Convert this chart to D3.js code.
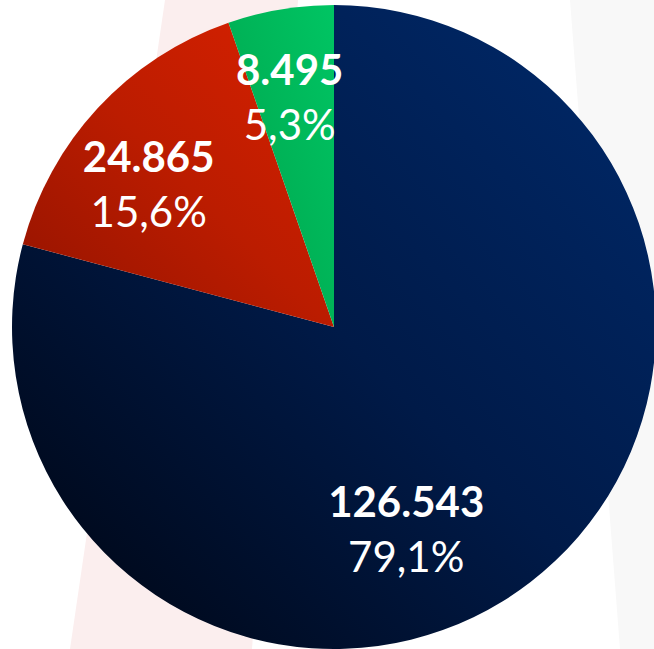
<!DOCTYPE html>
<html><head><meta charset="utf-8">
<script src="https://cdn.jsdelivr.net/npm/d3@7"></script>
<style>html,body{margin:0;padding:0;background:#fff;overflow:hidden}</style>
</head><body>
<svg id="chart" width="654" height="649"></svg>
<script>
const categories = ["Blue", "Red", "Green"];
const values = [126543, 24865, 8495];
const valueLabels = ["126.543", "24.865", "8.495"];
const percentLabels = ["79,1%", "15,6%", "5,3%"];

const colorStops = [
  ["#00040f", "#001a48", "#002a6c"],
  ["#921300", "#bb1c00", "#d92100"],
  ["#009f4e", "#00b357", "#00c563"]
];
// label placement: [radius fraction, angle offset in degrees from slice centroid]
const labelLayout = [[0.63, 16.7], [0.75, -3.0], [0.765, -0.8]];

const W = 654, H = 649;
const cx = 334, cy = 327, R = 322;
const svg = d3.select("#chart");
const defs = svg.append("defs");

// faint background shapes
svg.append("polygon").attr("points", "165,0 298,0 252,649 70,649").attr("fill", "#fbeeee");
svg.append("polygon").attr("points", "570,0 654,0 654,649 620,649").attr("fill", "#f8f8f8");

categories.forEach((c, i) => {
  const g = defs.append("linearGradient").attr("id", "grad" + i)
    .attr("x1", "0").attr("y1", "1").attr("x2", "1").attr("y2", "0");
  colorStops[i].forEach((col, j) => g.append("stop")
    .attr("offset", (j / (colorStops[i].length - 1) * 100) + "%").attr("stop-color", col));
});

const pie = d3.pie().sort(null).value(d => d);
const arcs = pie(values);
const arc = d3.arc().innerRadius(0).outerRadius(R);

const g = svg.append("g").attr("transform", `translate(${cx},${cy})`);
g.selectAll("path").data(arcs).enter().append("path")
  .attr("d", arc)
  .attr("fill", (d, i) => `url(#grad${i})`);

const labels = g.selectAll("g.lbl").data(arcs).enter().append("g").attr("class", "lbl")
  .attr("transform", (d, i) => {
    const a = (d.startAngle + d.endAngle) / 2 + labelLayout[i][1] * Math.PI / 180;
    const r = R * labelLayout[i][0];
    return `translate(${r * Math.sin(a)},${-r * Math.cos(a)})`;
  });
labels.append("text").attr("text-anchor", "middle")
  .attr("font-family", "Lato, 'Open Sans', sans-serif").attr("font-weight", "bold")
  .attr("font-size", 42).attr("fill", "#fff")
  .text((d, i) => valueLabels[i]);
labels.append("text").attr("text-anchor", "middle").attr("dy", 55)
  .attr("font-family", "Lato, 'Open Sans', sans-serif").attr("font-weight", "normal")
  .attr("font-size", 42).attr("fill", "#fff")
  .text((d, i) => percentLabels[i]);
</script>
</body></html>
